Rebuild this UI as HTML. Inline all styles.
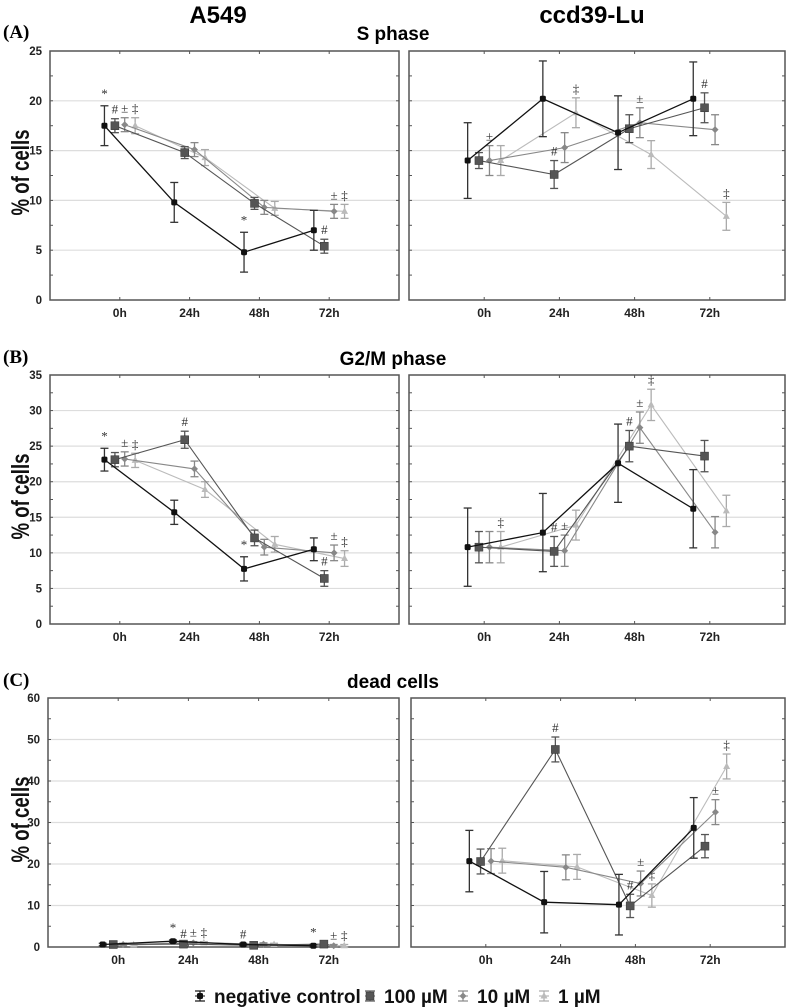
<!DOCTYPE html>
<html><head><meta charset="utf-8"><style>
html,body{margin:0;padding:0;background:#fff;}
svg{display:block;font-family:"Liberation Sans",Arial,sans-serif;}
</style></head><body>
<svg id="fig" width="787" height="1007" viewBox="0 0 787 1007">
<text x="218" y="23" font-size="24" font-weight="bold" text-anchor="middle">A549</text>
<text x="592" y="23" font-size="24" font-weight="bold" text-anchor="middle">ccd39-Lu</text>
<text x="3" y="38" font-size="19" font-weight="bold" font-family="Liberation Serif,serif">(A)</text>
<text x="393" y="40" font-size="19" font-weight="bold" text-anchor="middle">S phase</text>
<text x="3" y="363" font-size="19" font-weight="bold" font-family="Liberation Serif,serif">(B)</text>
<text x="393" y="365" font-size="19" font-weight="bold" text-anchor="middle">G2/M phase</text>
<text x="3" y="686" font-size="19" font-weight="bold" font-family="Liberation Serif,serif">(C)</text>
<text x="393" y="688" font-size="19" font-weight="bold" text-anchor="middle">dead cells</text>
<g id="plots"></g>
<g id="legend"></g>
</svg>
<script>
const categories = ["0h","24h","48h","72h"];
const seriesNames = ["negative control","100 \u00B5M","10 \u00B5M","1 \u00B5M"];
// S phase A549
const sA_neg=[17.5,9.8,4.8,7.0], sA_neg_e=[2,2,2,2];
const sA_100=[17.5,14.8,9.7,5.4], sA_100_e=[0.7,0.6,0.6,0.7];
const sA_10=[17.6,15.1,9.3,8.9], sA_10_e=[0.7,0.7,0.7,0.7];
const sA_1=[17.5,14.3,9.2,8.9], sA_1_e=[0.8,0.8,0.7,0.7];
// S phase ccd39-Lu
const sC_neg=[14.0,20.2,16.8,20.2], sC_neg_e=[3.8,3.8,3.7,3.7];
const sC_100=[14.0,12.6,17.2,19.3], sC_100_e=[0.8,1.4,1.4,1.5];
const sC_10=[14.0,15.3,17.8,17.1], sC_10_e=[1.5,1.5,1.5,1.5];
const sC_1=[14.0,18.8,14.6,8.4], sC_1_e=[1.5,1.5,1.4,1.4];
// G2/M A549
const gA_neg=[23.1,15.7,7.75,10.5], gA_neg_e=[1.6,1.7,1.7,1.6];
const gA_100=[23.1,25.9,12.1,6.4], gA_100_e=[1.0,1.2,1.1,1.1];
const gA_10=[23.2,21.8,10.8,10.0], gA_10_e=[1.0,1.1,1.1,1.1];
const gA_1=[23.0,18.9,11.2,9.2], gA_1_e=[1.0,1.1,1.1,1.1];
// G2/M ccd39-Lu
const gC_neg=[10.8,12.85,22.6,16.2], gC_neg_e=[5.5,5.5,5.5,5.5];
const gC_100=[10.8,10.2,25.0,23.6], gC_100_e=[2.2,2.1,2.2,2.2];
const gC_10=[10.8,10.3,27.6,12.9], gC_10_e=[2.2,2.2,2.2,2.2];
const gC_1=[10.8,13.9,30.8,15.9], gC_1_e=[2.2,2.1,2.2,2.2];
// dead A549
const dA_neg=[0.6,1.4,0.6,0.3], dA_neg_e=[0.3,0.3,0.3,0.3];
const dA_100=[0.6,0.7,0.4,0.7], dA_100_e=[0.3,0.3,0.3,0.3];
const dA_10=[0.6,1.0,0.7,0.3], dA_10_e=[0.3,0.3,0.3,0.3];
const dA_1=[0.5,1.0,0.6,0.3], dA_1_e=[0.3,0.3,0.3,0.3];
// dead ccd39-Lu
const dC_neg=[20.7,10.8,10.2,28.7], dC_neg_e=[7.4,7.4,7.3,7.3];
const dC_100=[20.6,47.6,9.9,24.3], dC_100_e=[3,3,2.8,2.8];
const dC_10=[20.7,19.2,15.3,32.5], dC_10_e=[3,3,3,3];
const dC_1=[20.8,19.3,12.4,43.5], dC_1_e=[3,3,2.8,3];
// y ticks
const ticksS=[0,5,10,15,20,25], ticksG=[0,5,10,15,20,25,30,35], ticksD=[0,10,20,30,40,50,60];
// significance markers [series, time, symbol]
const annSA=[[0,0,"*"],[1,0,"#"],[2,0,"\u00B1"],[3,0,"\u2021"],[0,2,"*"],[1,3,"#"],[2,3,"\u00B1"],[3,3,"\u2021"]];
const annSC=[[2,0,"\u00B1"],[3,1,"\u2021"],[1,1,"#"],[2,2,"\u00B1"],[1,3,"#"],[3,3,"\u2021"]];
const annGA=[[0,0,"*"],[2,0,"\u00B1"],[3,0,"\u2021"],[1,1,"#"],[0,2,"*"],[1,3,"#"],[2,3,"\u00B1"],[3,3,"\u2021"]];
const annGC=[[3,0,"\u2021"],[1,1,"#"],[2,1,"\u00B1"],[1,2,"#"],[2,2,"\u00B1"],[3,2,"\u2021"]];
const annDA=[[0,1,"*"],[1,1,"#"],[2,1,"\u00B1"],[3,1,"\u2021"],[0,2,"#"],[0,3,"*"],[2,3,"\u00B1"],[3,3,"\u2021"]];
const annDC=[[1,1,"#"],[1,2,"#"],[2,2,"\u00B1"],[3,2,"\u2021"],[2,3,"\u00B1"],[3,3,"\u2021"]];

const NS="http://www.w3.org/2000/svg";
const colors=["#111","#555","#888","#bbb"];
const offsets=[-0.22,-0.07,0.07,0.22];
const plots=document.getElementById("plots");
function mk(tag,attrs,parent){const e=document.createElementNS(NS,tag);for(const k in attrs)e.setAttribute(k,attrs[k]);(parent||plots).appendChild(e);return e;}

function marker(g,s,x,y){
  let e;
  if(s===0){e=mk("rect",{x:x-3,y:y-3,width:6,height:6,rx:1.5,fill:colors[0]},g);}
  else if(s===1){e=mk("rect",{x:x-4,y:y-4,width:8,height:8,fill:"#555",stroke:"#333","stroke-width":0.5},g);}
  else if(s===2){e=mk("polygon",{points:`${x},${y-3.5} ${x+3.5},${y} ${x},${y+3.5} ${x-3.5},${y}`,fill:"#888"},g);}
  else {e=mk("polygon",{points:`${x},${y-4} ${x+3.5},${y+2.5} ${x-3.5},${y+2.5}`,fill:"#bbb"},g);}
  return e;
}

function panel(name,x0,x1,y0,y1,ymax,ticks,series,errs,anns,showYLabels,minorStep){
  const g=mk("g",{});
  
  
  const X=v=>x0+(v+1)*(x1-x0)/5;
  const Y=v=>y1-v*(y1-y0)/ymax;
  ticks.forEach(t=>{ if(t>0&&t<ymax){const l=mk("line",{x1:x0,x2:x1,y1:Y(t),y2:Y(t),stroke:"#ddd","stroke-width":1.2},g);
    
    }});
  const f=mk("rect",{x:x0,y:y0,width:x1-x0,height:y1-y0,fill:"none",stroke:"#555","stroke-width":1.5},g);
  
  
  for(let v=0;v<=ymax+0.001;v+=minorStep){
    mk("line",{x1:x0,x2:x0+3,y1:Y(v),y2:Y(v),stroke:"#555","stroke-width":1},g);
    mk("line",{x1:x1,x2:x1-3,y1:Y(v),y2:Y(v),stroke:"#555","stroke-width":1},g);
  }
  categories.forEach((c,i)=>{
    mk("line",{x1:X(i),x2:X(i),y1:y0,y2:y0+3,stroke:"#555"},g);
    mk("line",{x1:X(i),x2:X(i),y1:y1,y2:y1-3,stroke:"#555"},g);
    const t=mk("text",{x:X(i),y:y1+17,"font-size":12,"font-weight":"bold","text-anchor":"middle",fill:"#222"},g);
    t.textContent=c;
    
    
  });
  if(showYLabels){
    ticks.forEach(tk=>{const t=mk("text",{x:x0-8,y:Y(tk)+4,"font-size":11.5,"font-weight":"bold","text-anchor":"end",fill:"#222"},g);
      t.textContent=tk;
      
      });
    const yl=mk("text",{transform:`translate(29,${(y0+y1)/2-3}) rotate(-90)`,"font-size":25,"font-weight":"bold","text-anchor":"middle",fill:"#111",textLength:86,lengthAdjust:"spacingAndGlyphs"},g);
    yl.textContent="% of cells";
    
    
  }
  for(let s=3;s>=0;s--){
    const vals=series[s],er=errs[s];
    const pts=vals.map((v,i)=>`${X(i+offsets[s])},${Y(v)}`).join(" ");
    const pl=mk("polyline",{points:pts,fill:"none",stroke:colors[s],"stroke-width":s===0?1.3:1.1},g);
    
    
    vals.forEach((v,i)=>{
      const x=X(i+offsets[s]);
      const eg=mk("g",{},g);
      
      
      const ec=s===3?"#aaa":(s===0?"#333":colors[s]);
      mk("line",{x1:x,x2:x,y1:Y(v-er[i]),y2:Y(v+er[i]),stroke:ec,"stroke-width":1.3},eg);
      mk("line",{x1:x-4,x2:x+4,y1:Y(v-er[i]),y2:Y(v-er[i]),stroke:ec,"stroke-width":1.3},eg);
      mk("line",{x1:x-4,x2:x+4,y1:Y(v+er[i]),y2:Y(v+er[i]),stroke:ec,"stroke-width":1.3},eg);
      const m=marker(g,s,x,Y(v));
      
      
    });
  }
  anns.forEach(a=>{
    const [s,i,sym]=a;
    const v=series[s][i]+errs[s][i];
    const t=mk("text",{x:X(i+offsets[s]),y:Y(v)-(sym==="*"?8:5),"font-size":13,"text-anchor":"middle",fill:"#333","font-family":"Liberation Serif,serif"},g);
    t.textContent=sym;
    
    
  });
}
panel("s-phase-a549",50,399,51,300,25,ticksS,[sA_neg,sA_100,sA_10,sA_1],[sA_neg_e,sA_100_e,sA_10_e,sA_1_e],annSA,true,2.5);
panel("s-phase-ccd39",409,785,51,300,25,ticksS,[sC_neg,sC_100,sC_10,sC_1],[sC_neg_e,sC_100_e,sC_10_e,sC_1_e],annSC,false,2.5);
panel("g2m-phase-a549",50,399,375,624,35,ticksG,[gA_neg,gA_100,gA_10,gA_1],[gA_neg_e,gA_100_e,gA_10_e,gA_1_e],annGA,true,2.5);
panel("g2m-phase-ccd39",409,785,375,624,35,ticksG,[gC_neg,gC_100,gC_10,gC_1],[gC_neg_e,gC_100_e,gC_10_e,gC_1_e],annGC,false,2.5);
panel("dead-cells-a549",48,399,698,947,60,ticksD,[dA_neg,dA_100,dA_10,dA_1],[dA_neg_e,dA_100_e,dA_10_e,dA_1_e],annDA,true,5);
panel("dead-cells-ccd39",411,785,698,947,60,ticksD,[dC_neg,dC_100,dC_10,dC_1],[dC_neg_e,dC_100_e,dC_10_e,dC_1_e],annDC,false,5);

const lg=document.getElementById("legend");
const legX=[200,370,463,544];
seriesNames.forEach((n,s)=>{
  const g=mk("g",{},lg);
  
  
  const x=legX[s],y=996;
  const ec=s===3?"#aaa":colors[s];
  mk("line",{x1:x,x2:x,y1:y-5,y2:y+5,stroke:ec,"stroke-width":1.2},g);
  mk("line",{x1:x-5,x2:x+5,y1:y-5,y2:y-5,stroke:ec,"stroke-width":1.2},g);
  mk("line",{x1:x-5,x2:x+5,y1:y+5,y2:y+5,stroke:ec,"stroke-width":1.2},g);
  mk("line",{x1:x-5,x2:x+5,y1:y,y2:y,stroke:ec,"stroke-width":1},g);
  marker(g,s,x,y);
  const t=mk("text",{x:x+14,y:y+7,"font-size":19,"font-weight":"bold",fill:"#111"},g);
  t.textContent=n;
});
</script>
</body></html>
